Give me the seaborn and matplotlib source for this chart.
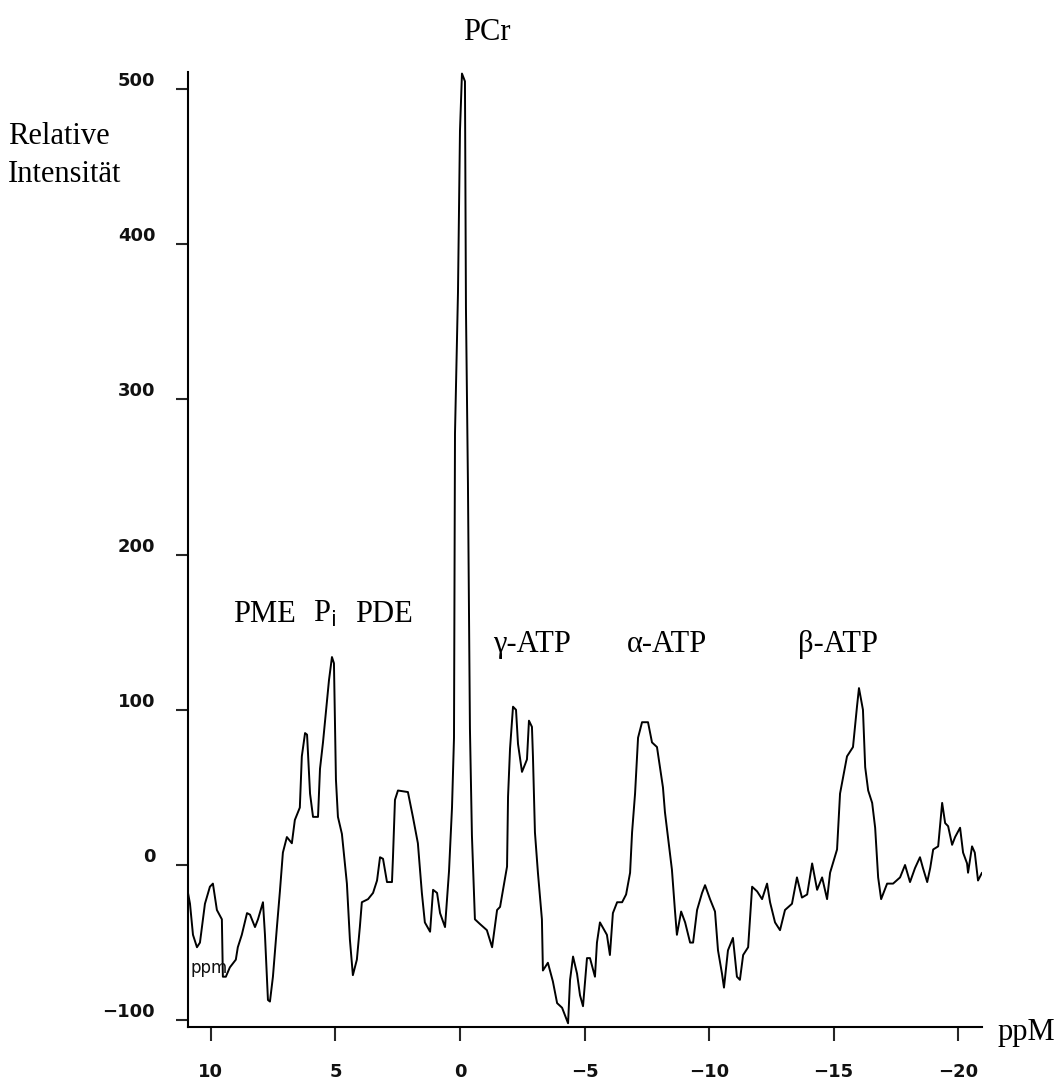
import matplotlib
matplotlib.use("Agg")
import matplotlib.pyplot as plt
import seaborn as sns
import pandas as pd
from matplotlib.transforms import ScaledTranslation

# ---- data -------------------------------------------------------------
ppm = [10.92, 10.84, 10.72, 10.56, 10.44, 10.24, 10.04, 9.92, 9.76, 9.56,
       9.52, 9.40, 9.24, 9.00, 8.92, 8.76, 8.55, 8.43, 8.23, 8.11,
       7.91, 7.83, 7.71, 7.63, 7.51, 7.35, 7.23, 7.11, 6.95, 6.75,
       6.63, 6.43, 6.35, 6.22, 6.14, 6.02, 5.90, 5.70, 5.62, 5.50,
       5.34, 5.26, 5.14, 5.06, 4.98, 4.90, 4.74, 4.54, 4.42, 4.30,
       4.14, 4.02, 3.94, 3.69, 3.49, 3.33, 3.21, 3.09, 2.93, 2.73,
       2.69, 2.61, 2.49, 2.09, 1.89, 1.69, 1.53, 1.41, 1.20, 1.08,
       0.92, 0.80, 0.60, 0.44, 0.32, 0.24, 0.20, 0.08, 0.00, -0.08,
       -0.20, -0.24, -0.32, -0.40, -0.48, -0.60, -0.80, -1.08, -1.29, -1.49,
       -1.61, -1.73, -1.89, -1.93, -2.01, -2.13, -2.25, -2.33, -2.49, -2.69,
       -2.77, -2.89, -2.93, -3.01, -3.13, -3.29, -3.33, -3.53, -3.73, -3.90,
       -4.10, -4.34, -4.42, -4.54, -4.70, -4.82, -4.94, -5.10, -5.22, -5.42,
       -5.50, -5.62, -5.90, -6.02, -6.14, -6.31, -6.51, -6.67, -6.83, -6.91,
       -7.03, -7.15, -7.31, -7.55, -7.71, -7.91, -8.03, -8.15, -8.23, -8.35,
       -8.51, -8.63, -8.71, -8.88, -9.04, -9.24, -9.36, -9.52, -9.72, -9.84,
       -10.04, -10.24, -10.36, -10.52, -10.60, -10.76, -10.96, -11.12, -11.24, -11.37,
       -11.57, -11.73, -11.93, -12.13, -12.33, -12.45, -12.65, -12.85, -13.05, -13.33,
       -13.53, -13.73, -13.94, -14.14, -14.34, -14.54, -14.74, -14.86, -15.14, -15.26,
       -15.54, -15.78, -15.94, -16.02, -16.18, -16.27, -16.39, -16.55, -16.67, -16.79,
       -16.91, -17.15, -17.39, -17.67, -17.87, -18.07, -18.27, -18.47, -18.59, -18.76,
       -18.88, -19.00, -19.20, -19.36, -19.48, -19.60, -19.76, -19.88, -20.08, -20.20,
       -20.36, -20.40, -20.56, -20.67, -20.80, -20.96]

intensity = [-18, -25, -45, -53, -50, -25, -14, -12, -29, -35,
             -72, -72, -66, -61, -53, -45, -31, -32, -40, -35,
             -24, -45, -87, -88, -72, -40, -17, 8, 18, 14,
             29, 37, 70, 85, 84, 46, 31, 31, 62, 79,
             106, 119, 134, 130, 55, 31, 20, -12, -48, -71,
             -61, -40, -24, -22, -18, -10, 5, 4, -11, -11,
             5, 42, 48, 47, 31, 14, -18, -37, -43, -16,
             -18, -31, -40, -4, 37, 82, 278, 369, 473, 510,
             505, 359, 246, 88, 19, -35, -38, -42, -53, -29,
             -27, -16, -1, 44, 75, 102, 100, 78, 60, 68,
             93, 89, 70, 21, -5, -35, -68, -63, -75, -89,
             -92, -102, -74, -59, -70, -84, -91, -60, -60, -72,
             -50, -37, -45, -58, -31, -24, -24, -19, -5, 21,
             46, 82, 92, 92, 79, 76, 63, 50, 34, 18,
             -3, -29, -45, -30, -37, -50, -50, -29, -18, -13,
             -22, -30, -55, -70, -79, -55, -47, -72, -74, -58,
             -53, -14, -17, -22, -12, -24, -37, -42, -29, -25,
             -8, -21, -19, 1, -16, -8, -22, -5, 10, 46,
             70, 76, 102, 114, 100, 63, 48, 40, 24, -8,
             -22, -12, -12, -8, 0, -11, -2, 5, -2, -11,
             -2, 10, 12, 40, 27, 25, 13, 18, 24, 8,
             1, -5, 12, 8, -10, -5]

x_ticks = [10, 5, 0, -5, -10, -15, -20]
x_tick_labels = ["10", "5", "0", "\u22125", "\u221210", "\u221215", "\u221220"]
y_ticks = [-100, 0, 100, 200, 300, 400, 500]
y_tick_labels = ["\u2212100", "0", "100", "200", "300", "400", "500"]

# ---- figure ----------------------------------------------------------
sns.set_style("ticks")
plt.rcParams['font.family'] = ['DejaVu Sans']

W, H = 1063, 1088
fig = plt.figure(figsize=(W / 100, H / 100), dpi=100)
ax = fig.add_axes([188 / W, 1 - 1027 / H, (982 - 188) / W, (1027 - 72) / H])

df = pd.DataFrame({"ppm": ppm, "intensity": intensity})
sns.lineplot(data=df, x="ppm", y="intensity", ax=ax, color="black",
             linewidth=1.4, sort=False, estimator=None)

ax.set_xlim(10.92, -20.96)
ax.set_ylim(-104.4, 511)
ax.set_xlabel("")
ax.set_ylabel("")
for s in ["top", "right"]:
    ax.spines[s].set_visible(False)
for s in ["left", "bottom"]:
    ax.spines[s].set_linewidth(1.5)
    ax.spines[s].set_color("black")

ax.set_xticks(x_ticks)
ax.set_xticklabels(x_tick_labels)
ax.set_yticks(y_ticks)
ax.set_yticklabels(y_tick_labels)
ax.tick_params(axis="x", length=10, width=1.5, pad=16, labelsize=13)
ax.tick_params(axis="y", length=8.6, width=1.5, pad=15, labelsize=13)
for lab in ax.get_xticklabels() + ax.get_yticklabels():
    lab.set_color("#111111")
    lab.set_fontweight("bold")
for lab in ax.get_yticklabels():
    lab.set_transform(lab.get_transform() + ScaledTranslation(0, 10 / 100, fig.dpi_scale_trans))

serif = ["Liberation Serif", "DejaVu Serif"]
def ftext(x, y, s, **kw):
    fig.text(x / W, 1 - y / H, s, family=serif, fontsize=22, color="black", **kw)

ftext(487, 40, "PCr", ha="center", va="baseline")
ftext(8, 144, "Relative", ha="left", va="baseline")
ftext(8, 182, "Intensität", ha="left", va="baseline")
ftext(233, 622, "PME", ha="left", va="baseline")
ftext(313, 622, r"P$_{\mathrm{i}}$", ha="left", va="baseline")
ftext(355, 622, "PDE", ha="left", va="baseline")
ftext(493, 652, "γ-ATP", ha="left", va="baseline")
ftext(627, 652, "α-ATP", ha="left", va="baseline")
ftext(798, 652, "β-ATP", ha="left", va="baseline")
ftext(998, 1040, "ppM", ha="left", va="baseline")
fig.text(190 / W, 1 - 968 / H, "ppm", fontsize=12,
         color="#111111", ha="left", va="center")

fig.savefig("out.png", dpi=100, facecolor="white")
